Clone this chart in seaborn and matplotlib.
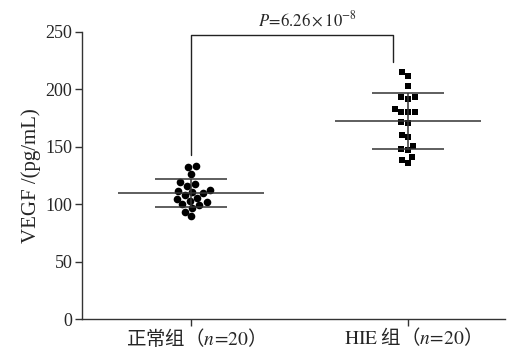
import matplotlib
matplotlib.use('Agg')
import matplotlib.pyplot as plt
import numpy as np
import pandas as pd
import seaborn as sns

# data
groups = ['正常组', 'HIE组']
tick_labels = ['正常组（$n\\!=\\!20$）', '$\\mathrm{HIE}$ 组（$n\\!=\\!20$）']
normal_vals = [133.3, 132.1, 126.0, 117.9, 116.1, 119.1, 112.6, 110.9, 111.5, 108.0,
               109.8, 105.7, 102.8, 101.7, 104.5, 99.3, 99.9, 96.4, 93.5, 89.5]
hie_vals = [215.4, 212.0, 203.0, 193.1, 191.6, 193.7, 180.3, 180.3, 180.6, 182.7,
            171.9, 170.5, 158.3, 160.6, 148.1, 147.2, 151.0, 141.1, 136.2, 138.5]
p_text = '$P\\!=\\!6.26\\times10^{-8}$'
bracket_heights = [143, 247, 224]  # left leg bottom, top, right leg bottom

df = pd.DataFrame({
    'group': [groups[0]] * len(normal_vals) + [groups[1]] * len(hie_vals),
    'value': normal_vals + hie_vals,
})

sns.set_style('ticks')
plt.rcParams['font.family'] = ['Liberation Serif', 'Noto Sans CJK SC']
plt.rcParams['mathtext.fontset'] = 'stix'

fig = plt.figure(figsize=(5.07, 3.51), dpi=100)
ax = fig.add_axes([0.162, 0.091, 0.834, 0.818])

sns.swarmplot(data=df[df.group == groups[0]], x='group', y='value', order=groups,
              marker='o', color='black', size=5.5, ax=ax)
sns.swarmplot(data=df[df.group == groups[1]], x='group', y='value', order=groups,
              marker='s', color='black', size=4.8, ax=ax)

# mean and SD lines
line_col = '#333333'
for i, g in enumerate(groups):
    v = df.loc[df.group == g, 'value']
    m, s = v.mean(), v.std()
    ax.hlines(m, i - 0.336, i + 0.336, color=line_col, lw=1.1, zorder=3)
    ax.hlines([m - s, m + s], i - 0.168, i + 0.168, color=line_col, lw=1.1, zorder=3)
    ax.vlines(i, m - s, m + s, color=line_col, lw=1.1, zorder=3)

# significance bracket
ax.plot([0, 0, 0.93, 0.93],
        [bracket_heights[0], bracket_heights[1], bracket_heights[1], bracket_heights[2]],
        color='#222222', lw=1.0, clip_on=False)
ax.text(0.535, 251.5, p_text, ha='center', va='bottom', fontsize=12, clip_on=False)

ax.set_xlim(-0.502, 1.447)
ax.set_ylim(0, 250)
ax.set_yticks([0, 50, 100, 150, 200, 250])
ax.set_xticks([0, 1])
ax.set_xticklabels(tick_labels, fontsize=14, fontfamily='Noto Sans CJK SC')
ax.tick_params(axis='y', labelsize=13, length=5, width=1.0, color='#333333', pad=2)
ax.tick_params(axis='x', length=5, width=1.0, color='#333333', pad=0.5)
ax.set_xlabel('')
ax.set_ylabel('VEGF /(pg/mL)', fontsize=15, labelpad=3)
for side in ['top', 'right']:
    ax.spines[side].set_visible(False)
for side in ['left', 'bottom']:
    ax.spines[side].set_linewidth(1.0)
    ax.spines[side].set_color('#333333')

fig.savefig('out.png', dpi=100)
